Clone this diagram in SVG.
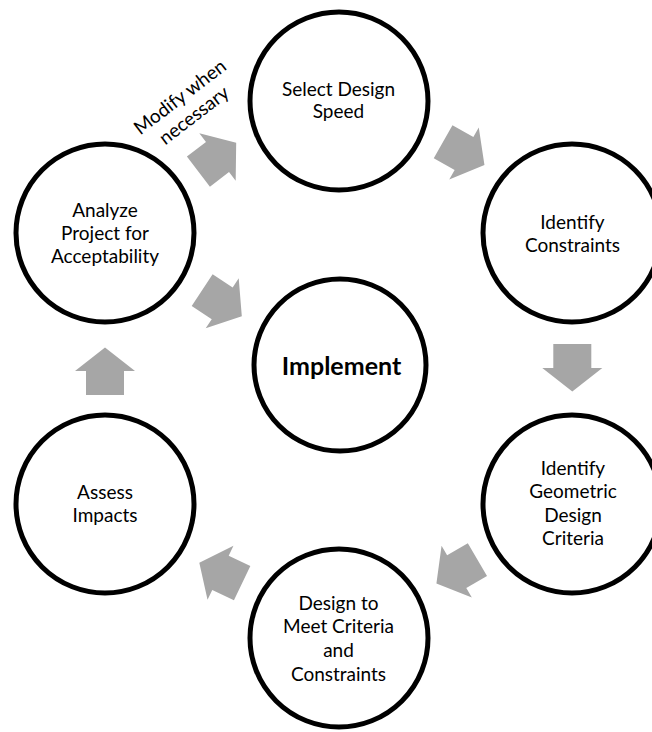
<svg xmlns="http://www.w3.org/2000/svg" width="652" height="732" viewBox="0 0 652 732">
<defs>
<style>
.node circle{fill:#fff;stroke:#000;stroke-width:5}
.node text,.lbl{font-family:Lato,"Liberation Sans",sans-serif;font-size:19px;fill:#000;text-anchor:middle}
.node text.b{font-weight:bold;font-size:25px}
.arr{fill:#A6A6A6}
</style>
<path id="ar" d="M-24,-19 L0,-19 L0,-30 L23.5,0 L0,30 L0,19 L-24,19 Z"/>
</defs>
<rect width="652" height="732" fill="#fff"/>
<g id="connectors">
<use href="#ar" class="arr" transform="translate(217.5,157) rotate(-37.3)"/>
<use href="#ar" class="arr" transform="translate(464,153.5) rotate(29.5)"/>
<use href="#ar" class="arr" transform="translate(572.3,368) rotate(90)"/>
<use href="#ar" class="arr" transform="translate(456.7,571.7) rotate(149.7)"/>
<use href="#ar" class="arr" transform="translate(220.5,572.8) rotate(-154.4)"/>
<use href="#ar" class="arr" transform="translate(105,371) rotate(-90)"/>
<use href="#ar" class="arr" transform="translate(222.2,303.3) rotate(33.4)"/>
<g transform="translate(188.2,107.7) rotate(-37.5)">
<text class="lbl" x="0" y="-7">Modify when</text>
<text class="lbl" x="0" y="16">necessary</text>
</g>
</g>
<g id="select" class="node"><circle cx="339" cy="101" r="89"/><text x="338.5" y="95.5">Select Design</text><text x="338.5" y="118">Speed</text></g>
<g id="constraints" class="node"><circle cx="572" cy="233" r="89"/><text x="572.5" y="229">Identify</text><text x="572.5" y="252">Constraints</text></g>
<g id="geometric" class="node"><circle cx="572" cy="504" r="89"/><text x="573" y="474.5">Identify</text><text x="573" y="498">Geometric</text><text x="573" y="521.5">Design</text><text x="573" y="544.5">Criteria</text></g>
<g id="design" class="node"><circle cx="339" cy="638" r="89"/><text x="338.5" y="609.5">Design to</text><text x="338.5" y="633">Meet Criteria</text><text x="338.5" y="656.5">and</text><text x="338.5" y="680.5">Constraints</text></g>
<g id="assess" class="node"><circle cx="105" cy="504" r="89"/><text x="105" y="498.5">Assess</text><text x="105" y="522">Impacts</text></g>
<g id="analyze" class="node"><circle cx="105" cy="233" r="89"/><text x="105" y="217">Analyze</text><text x="105" y="240.4">Project for</text><text x="105" y="263">Acceptability</text></g>
<g id="implement" class="node"><circle cx="340" cy="365" r="86"/><text class="b" x="341.5" y="375">Implement</text></g>
</svg>
